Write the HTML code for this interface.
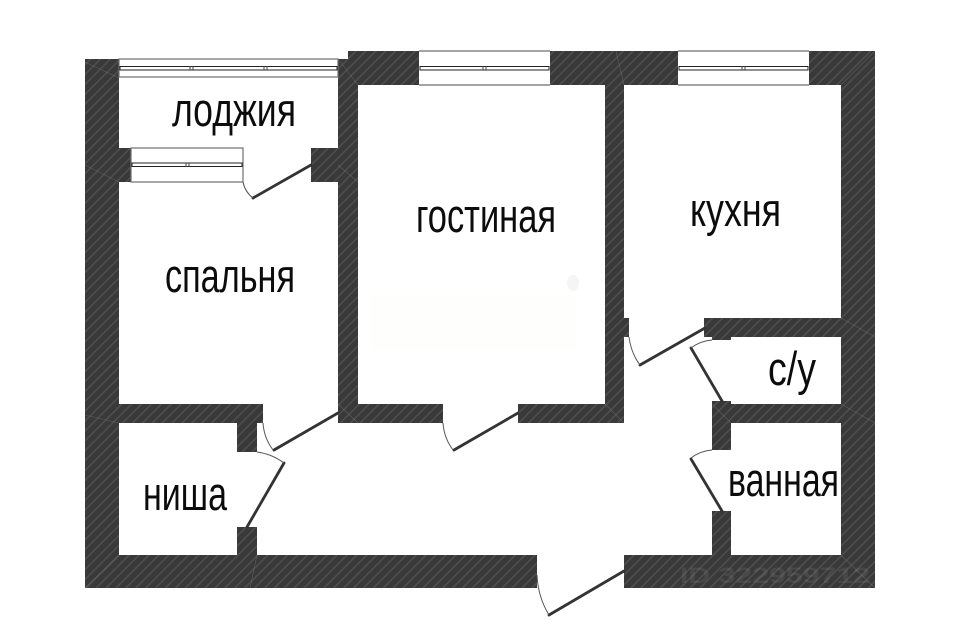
<!DOCTYPE html>
<html lang="ru">
<head>
<meta charset="utf-8">
<title>План квартиры</title>
<style>
html,body{margin:0;padding:0;background:#fff;width:960px;height:640px;overflow:hidden}
svg{display:block}
text{font-family:"Liberation Sans Narrow","Liberation Sans","DejaVu Sans",sans-serif;fill:#0c0c0c}
</style>
</head>
<body>
<svg width="960" height="640" viewBox="0 0 960 640" xmlns="http://www.w3.org/2000/svg">
<defs>
<pattern id="h" width="7" height="7" patternUnits="userSpaceOnUse" patternTransform="rotate(45)">
<rect width="7" height="7" fill="#393939"/>
<rect width="1.6" height="7" fill="#4e4e4e"/>
</pattern>
</defs>
<rect width="960" height="640" fill="#fff"/>
<rect x="372" y="295" width="205" height="55" fill="#fefefd"/>
<ellipse cx="573" cy="283" rx="6" ry="8" fill="#f5f5f5"/>

<g fill="url(#h)">
<rect x="85" y="59" width="34" height="529"/>
<rect x="85" y="555" width="452" height="33"/>
<rect x="624" y="555" width="251" height="33"/>
<rect x="841" y="51" width="34" height="537"/>
<rect x="348" y="51" width="71" height="34"/>
<rect x="550" y="51" width="128" height="34"/>
<rect x="809" y="51" width="66" height="34"/>
<rect x="338" y="59" width="20" height="364"/>
<rect x="119" y="148" width="12" height="34"/>
<rect x="311" y="148" width="27" height="34"/>
<rect x="119" y="404" width="144" height="19"/>
<rect x="237" y="423" width="20" height="29"/>
<rect x="237" y="527" width="20" height="28"/>
<rect x="338" y="404" width="105" height="19"/>
<rect x="518" y="404" width="106" height="19"/>
<rect x="605" y="85" width="19" height="338"/>
<rect x="624" y="318" width="5" height="19"/>
<rect x="704" y="318" width="137" height="19"/>
<rect x="712" y="337" width="19" height="3"/>
<rect x="712" y="401" width="19" height="49"/>
<rect x="731" y="404" width="110" height="19"/>
<rect x="712" y="511" width="19" height="44"/>
</g>

<g fill="#fff" stroke="#6e6e6e" stroke-width="1.2">
<rect x="119" y="59" width="219" height="18"/>
<rect x="131" y="148" width="112" height="34"/>
<rect x="419" y="51" width="131" height="34" stroke="none"/>
<rect x="678" y="51" width="131" height="34" stroke="none"/>
<path d="M419 51H550M419 85H550M678 51H809M678 85H809" fill="none"/>
</g>
<g fill="#fff" stroke="#222" stroke-width="1">
<rect x="120" y="66.5" width="217" height="3.5"/>
<rect x="132" y="163" width="110" height="3.5"/>
<rect x="420" y="66.5" width="129" height="3.5"/>
<rect x="679" y="66.5" width="129" height="3.5"/>
</g>
<g stroke="#444" stroke-width="1">
<path d="M190 66v4M193 66v4M264 66v4M267 66v4M186 163v4M189 163v4M483 66v4M486 66v4M742 66v4M745 66v4"/>
</g>

<g stroke="#8a8a8a" stroke-width=".6" fill="none" opacity=".45">
<path d="M85 62L119 78M338 59L358 85M85 165L119 182M338 165L358 182M85 415L119 423M85 588L119 555M257 555L250 588M338 404L358 423M605 404L624 423M841 318L875 337M841 404L875 423M841 555L875 588M841 85L875 51M616 51L624 85M712 404L731 423"/>
</g>

<g stroke="#333" stroke-width="2.8" fill="none" stroke-linecap="round">
<path d="M311 165L253 198"/>
<path d="M338 413L274 450"/>
<path d="M247 527L284 463"/>
<path d="M518 413L454 450"/>
<path d="M624 571L549 615"/>
<path d="M705 328L640 365"/>
<path d="M722 401L691 348"/>
<path d="M722 511L691 459"/>
</g>
<g stroke="#555" stroke-width="1" fill="none">
<path d="M243 182Q245 192 253 198"/>
<path d="M263 423Q264 438 273 450"/>
<path d="M257 452Q272 454 284 463"/>
<path d="M443 423Q444 438 453 450"/>
<path d="M537 575Q538 597 549 615"/>
<path d="M629 337Q631 353 640 365"/>
<path d="M712 340Q700 341 691 348"/>
<path d="M712 450Q700 451 691 458"/>
</g>

<g font-size="47">
<text x="172" y="126" textLength="124" lengthAdjust="spacingAndGlyphs">лоджия</text>
<text x="416" y="232" textLength="140" lengthAdjust="spacingAndGlyphs">гостиная</text>
<text x="690" y="226" textLength="91" lengthAdjust="spacingAndGlyphs">кухня</text>
<text x="165" y="292" textLength="130" lengthAdjust="spacingAndGlyphs">спальня</text>
<text x="768" y="385" textLength="48" lengthAdjust="spacingAndGlyphs">с/у</text>
<text x="728" y="496" textLength="111" lengthAdjust="spacingAndGlyphs">ванная</text>
<text x="143" y="510" textLength="84" lengthAdjust="spacingAndGlyphs">ниша</text>
</g>

<text x="680" y="583" font-size="22" font-weight="bold" textLength="190" lengthAdjust="spacingAndGlyphs" style="fill:#fff;fill-opacity:.08">ID 322959712</text>
</svg>
</body>
</html>
